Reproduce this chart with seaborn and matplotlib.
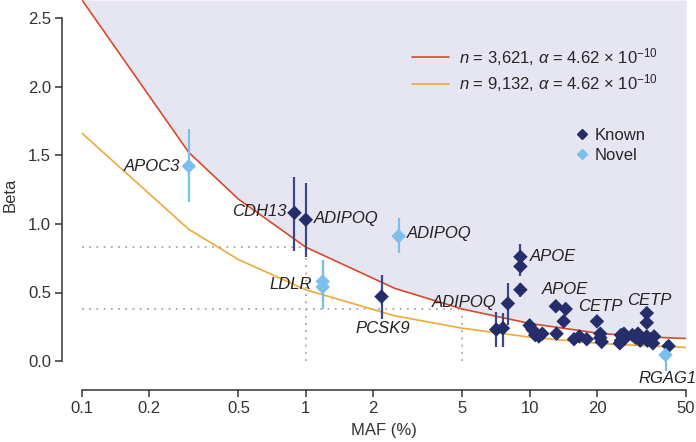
import matplotlib
matplotlib.use("Agg")
import matplotlib.pyplot as plt
from matplotlib.lines import Line2D
import seaborn as sns
import pandas as pd

# power curves (beta detectable at each MAF)
curve_maf = [0.1, 0.3, 0.5, 1, 2.5, 5, 10, 20, 30, 50]
beta_n3621 = [2.63, 1.52, 1.18, 0.83, 0.53, 0.38, 0.275, 0.205, 0.18, 0.165]
beta_n9132 = [1.66, 0.96, 0.74, 0.52, 0.33, 0.24, 0.175, 0.13, 0.115, 0.10]

# variants
known_maf = [0.89, 1.0, 2.18, 7.1, 7.6, 8.0, 9.1, 9.1, 9.1, 10.0, 10.3, 10.6,
             11.0, 11.4, 13.1, 14.5, 14.2, 13.2, 15.8, 16.7, 18.0, 20.0, 20.7,
             20.7, 21.0, 25.6, 25.6, 25.3, 26.4, 26.4, 28.8, 29.8, 30.5, 31.2,
             33.4, 33.4, 33.4, 33.6, 34.5, 35.6, 36.0, 41.8]
known_beta = [1.08, 1.03, 0.47, 0.23, 0.24, 0.42, 0.76, 0.69, 0.52, 0.26, 0.23,
              0.19, 0.18, 0.20, 0.40, 0.38, 0.29, 0.20, 0.16, 0.18, 0.16, 0.29,
              0.20, 0.17, 0.14, 0.19, 0.15, 0.13, 0.20, 0.16, 0.19, 0.17, 0.20,
              0.15, 0.35, 0.28, 0.18, 0.15, 0.16, 0.13, 0.18, 0.11]
known_lo = [0.80, 0.76, 0.31, 0.10, 0.10, 0.26, 0.68, 0.62, 0.47, 0.20, 0.18,
            0.15, 0.14, 0.16, 0.36, 0.34, 0.25, 0.16, 0.13, 0.15, 0.13, 0.26,
            0.17, 0.14, 0.11, 0.16, 0.12, 0.10, 0.17, 0.13, 0.16, 0.14, 0.17,
            0.12, 0.32, 0.25, 0.15, 0.12, 0.13, 0.10, 0.15, 0.08]
known_hi = [1.34, 1.30, 0.63, 0.36, 0.35, 0.57, 0.85, 0.76, 0.57, 0.31, 0.28,
            0.23, 0.22, 0.24, 0.44, 0.42, 0.33, 0.24, 0.19, 0.21, 0.19, 0.32,
            0.23, 0.20, 0.17, 0.22, 0.18, 0.16, 0.23, 0.19, 0.22, 0.20, 0.23,
            0.18, 0.38, 0.31, 0.21, 0.18, 0.19, 0.16, 0.21, 0.14]

novel_maf = [0.30, 1.19, 1.19, 2.6, 40.5]
novel_beta = [1.42, 0.58, 0.54, 0.91, 0.045]
novel_lo = [1.16, 0.38, 0.38, 0.79, -0.07]
novel_hi = [1.69, 0.74, 0.74, 1.04, 0.15]

# gene labels: text, maf, beta, alignment
label_text = ["APOC3", "CDH13", "ADIPOQ", "ADIPOQ", "LDLR", "PCSK9", "ADIPOQ",
              "APOE", "APOE", "CETP", "CETP", "RGAG1"]
label_maf = [0.274, 0.82, 1.09, 2.83, 1.07, 2.21, 7.13, 10.0, 11.4, 16.4, 27.4, 30.7]
label_beta = [1.42, 1.09, 1.04, 0.93, 0.555, 0.235, 0.43, 0.76, 0.52, 0.40, 0.445, -0.125]
label_ha = ["right", "right", "left", "left", "right", "center", "right",
            "left", "left", "left", "left", "left"]

c_red = "#d64a2c"
c_orange = "#efa93a"
c_known = "#252e6a"
c_known_err = "#3e4786"
c_novel = "#7cbfec"
c_fill = "#e6e6f3"
c_dot = "#a8a8a8"
c_axis = "#333333"
fs = 12

sns.set_theme(style="ticks")
plt.rcParams["font.family"] = ["Liberation Sans", "DejaVu Sans"]
plt.rcParams["mathtext.fontset"] = "custom"
plt.rcParams["mathtext.rm"] = "Liberation Sans"
plt.rcParams["mathtext.it"] = "Liberation Sans:italic"

curves = pd.DataFrame({
    "maf": curve_maf * 2,
    "beta": beta_n3621 + beta_n9132,
    "curve": ["n3621"] * len(curve_maf) + ["n9132"] * len(curve_maf),
})
points = pd.DataFrame({
    "maf": known_maf + novel_maf,
    "beta": known_beta + novel_beta,
    "lo": known_lo + novel_lo,
    "hi": known_hi + novel_hi,
    "kind": ["Known"] * len(known_maf) + ["Novel"] * len(novel_maf),
})

fig = plt.figure(figsize=(6.96, 4.42), dpi=100)
ax = fig.add_axes([82 / 696, 1 - 390 / 442, 604 / 696, 390 / 442])

y_top = 2.63
ax.fill_between(curve_maf, beta_n3621, y_top, color=c_fill, lw=0, zorder=0)

# dotted guides at MAF 1% and 5% on the n=3,621 curve
dot_kw = dict(color=c_dot, lw=1.3, linestyle=(0, (1, 3)), zorder=1)
ax.plot([0.1, 1], [beta_n3621[3]] * 2, **dot_kw)
ax.plot([1, 1], [0, beta_n3621[3]], **dot_kw)
ax.plot([0.1, 5], [beta_n3621[5]] * 2, **dot_kw)
ax.plot([5, 5], [0, beta_n3621[5]], **dot_kw)

sns.lineplot(data=curves, x="maf", y="beta", hue="curve",
             palette={"n3621": c_red, "n9132": c_orange},
             lw=1.2, sort=False, legend=False, ax=ax, zorder=2)

for kind, col in [("Known", c_known_err), ("Novel", c_novel)]:
    sub = points[points["kind"] == kind]
    ax.vlines(sub["maf"], sub["lo"], sub["hi"], colors=col, lw=1.6, zorder=3)

sns.scatterplot(data=points, x="maf", y="beta", hue="kind",
                palette={"Known": c_known, "Novel": c_novel},
                marker="D", s=55, linewidth=0, legend=False, ax=ax, zorder=4)

for t, x, y, ha in zip(label_text, label_maf, label_beta, label_ha):
    ax.text(x, y, t, ha=ha, va="center", fontsize=fs, style="italic",
            color="#222222", zorder=5)

ax.set_xscale("log")
ax.set_xlim(0.1, 50)
ax.set_ylim(-0.21, y_top)
xt = [0.1, 0.2, 0.5, 1, 2, 5, 10, 20, 50]
ax.set_xticks(xt)
ax.set_xticklabels(["0.1", "0.2", "0.5", "1", "2", "5", "10", "20", "50"])
ax.minorticks_off()
ax.set_yticks([0, 0.5, 1.0, 1.5, 2.0, 2.5])
ax.set_yticklabels(["0.0", "0.5", "1.0", "1.5", "2.0", "2.5"])
ax.set_xlabel("MAF (%)", fontsize=fs, color=c_axis, labelpad=5)
ax.set_ylabel("Beta", fontsize=fs, color=c_axis, labelpad=7)

sns.despine(ax=ax)
ax.spines["left"].set_position(("outward", 14.4))
ax.spines["left"].set_bounds(0, 2.5)
ax.spines["bottom"].set_bounds(0.1, 50)
for s in ["left", "bottom"]:
    ax.spines[s].set_color(c_axis)
    ax.spines[s].set_linewidth(1.1)
ax.tick_params(axis="both", direction="out", length=5, width=1.1,
               colors=c_axis, labelsize=fs, pad=3)
ax.patch.set_alpha(0)

line_handles = [Line2D([], [], color=c_red, lw=1.2), Line2D([], [], color=c_orange, lw=1.2)]
line_labels = [r"$n$ = 3,621, $\alpha$ = 4.62 × 10$^{-10}$",
               r"$n$ = 9,132, $\alpha$ = 4.62 × 10$^{-10}$"]
leg1 = ax.legend(line_handles, line_labels, loc="upper left",
                 bbox_to_anchor=(412 / 696, 1 - 46 / 442),
                 bbox_transform=fig.transFigure, frameon=False, fontsize=fs,
                 handlelength=2.2, handletextpad=0.6, labelspacing=0.25,
                 borderpad=0, borderaxespad=0)
ax.add_artist(leg1)

pt_handles = [Line2D([], [], marker="D", ls="", color=c_known, markersize=5),
              Line2D([], [], marker="D", ls="", color=c_novel, markersize=5)]
ax.legend(pt_handles, ["Known", "Novel"], loc="upper left",
          bbox_to_anchor=(575 / 696, 1 - 128 / 442),
          bbox_transform=fig.transFigure, frameon=False, fontsize=fs,
          handlelength=0.8, handletextpad=0.4, labelspacing=0.3,
          borderpad=0, borderaxespad=0)

fig.savefig("out.png", dpi=100)
